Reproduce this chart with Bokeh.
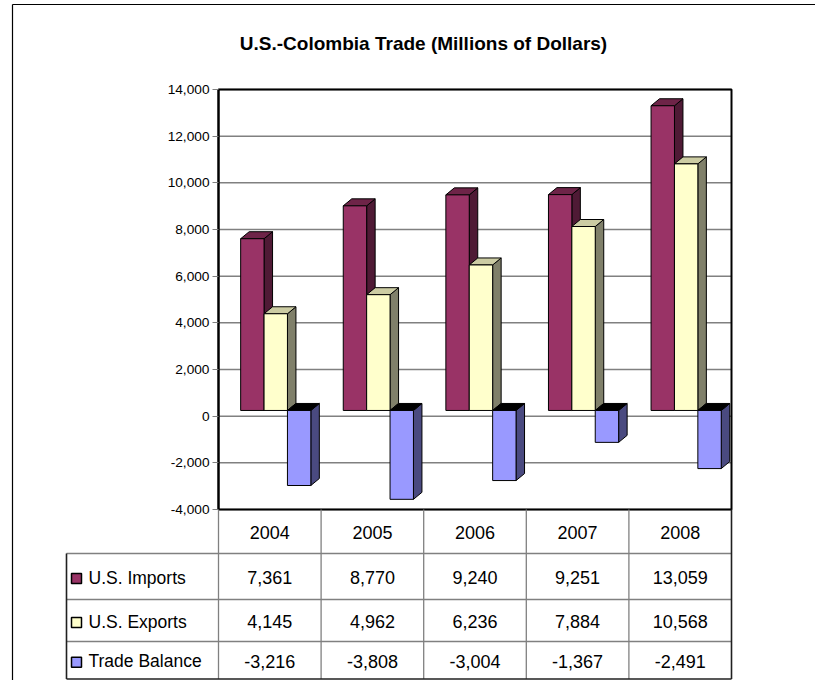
from bokeh.plotting import figure
from bokeh.models import Range1d, LinearAxis, FixedTicker, NumeralTickFormatter
from bokeh.embed import file_html
from bokeh.resources import INLINE
from bokeh.core.properties import value

# ---------------- data ----------------
years = ["2004", "2005", "2006", "2007", "2008"]
imports = [7361, 8770, 9240, 9251, 13059]
exports = [4145, 4962, 6236, 7884, 10568]
balance = [-3216, -3808, -3004, -1367, -2491]
series_names = ["U.S. Imports", "U.S. Exports", "Trade Balance"]
y_ticks = [-4000, -2000, 0, 2000, 4000, 6000, 8000, 10000, 12000, 14000]
title_text = "U.S.-Colombia Trade (Millions of Dollars)"

series_values = [imports, exports, balance]
front_colors = ["#993366", "#FFFFCC", "#9999FF"]
side_colors = ["#4F1A35", "#80806A", "#4A4A80"]
top_colors = ["#6E2448", "#CCCCA3", "#000000"]

# ---------------- layout (canvas pixels) ----------------
W, H = 815, 680
PA_L, PA_R = 218.0, 731.0
PA_T, PA_B = 89.0, 509.0
Y_MIN, Y_MAX = y_ticks[0], y_ticks[-1]
ncat = len(years)
cat_w = (PA_R - PA_L) / ncat
k = (PA_B - PA_T) / (Y_MAX - Y_MIN)
y0_px = PA_B - (0 - Y_MIN) * k


def ux(px):
    return (px - PA_L) / cat_w


def vy(py):
    return (y0_px - py) / k


FONT = value("Liberation Sans")

p = figure(width=W, height=H, output_backend="svg", toolbar_location=None,
           x_axis_type=None, y_axis_type=None,
           x_range=Range1d(ux(0), ux(W)),
           y_range=Range1d(vy(H), vy(0)),
           min_border=0, min_border_left=0, min_border_right=0,
           min_border_top=0, min_border_bottom=0)
p.outline_line_color = None
p.background_fill_color = "white"
p.border_fill_color = "white"

# outer border (left + top)
p.segment(x0=[ux(12), ux(12)], y0=[vy(4), vy(4)],
          x1=[ux(12), ux(W)], y1=[vy(H), vy(4)],
          line_color="black", line_width=1.2)

# gridlines
p.segment(x0=[0] * len(y_ticks), x1=[ncat] * len(y_ticks), y0=y_ticks, y1=y_ticks,
          line_color="#808080", line_width=1.5)

# ---------------- 3D bars ----------------
BAR_OFF = 0.216
BAR_W = 0.228
DX = 8.5 / cat_w
DY = 7.0 / k
BASE = 5.7 / k

for s, vals in enumerate(series_values):
    lefts, rights, bots, tops = [], [], [], []
    side_xs, side_ys, top_xs, top_ys = [], [], [], []
    for i, v in enumerate(vals):
        x0 = i + BAR_OFF + s * BAR_W
        x1 = x0 + BAR_W
        if v >= 0:
            b, t = BASE, BASE + v
        else:
            b, t = BASE + v, BASE
        lefts.append(x0); rights.append(x1); bots.append(b); tops.append(t)
        side_xs.append([x1, x1 + DX, x1 + DX, x1])
        side_ys.append([b, b + DY, t + DY, t])
        top_xs.append([x0, x1, x1 + DX, x0 + DX])
        top_ys.append([t, t, t + DY, t + DY])
    p.patches(xs=side_xs, ys=side_ys, fill_color=side_colors[s], line_color="black", line_width=1)
    p.patches(xs=top_xs, ys=top_ys, fill_color=top_colors[s], line_color="black", line_width=1)
    p.quad(left=lefts, right=rights, bottom=bots, top=tops,
           fill_color=front_colors[s], line_color="black", line_width=1)

# plot area border
p.quad(left=[0], right=[ncat], bottom=[Y_MIN], top=[Y_MAX],
       fill_color=None, line_color="black", line_width=2)

# y axis placed at plot-area left edge
yaxis = LinearAxis(fixed_location=0, bounds=(Y_MIN, Y_MAX),
                   ticker=FixedTicker(ticks=y_ticks),
                   formatter=NumeralTickFormatter(format="0,0"))
yaxis.major_label_text_font = "Liberation Sans"
yaxis.major_label_text_font_size = "13.7px"
yaxis.major_label_text_color = "black"
yaxis.major_label_standoff = 3
yaxis.axis_line_color = "black"
yaxis.axis_line_width = 2
yaxis.major_tick_out = 6
yaxis.major_tick_in = 0
yaxis.minor_tick_out = 0
yaxis.minor_tick_in = 0
yaxis.major_tick_line_color = "#808080"
p.add_layout(yaxis, "left")

# ---------------- data table ----------------
row_edges = [509.0, 553.0, 599.0, 641.0, 678.5]
LEG_L = 66.0
col_x = [i for i in range(ncat + 1)]

# inner horizontal lines
p.segment(x0=[ux(LEG_L)] * 3, x1=[ncat] * 3,
          y0=[vy(e) for e in row_edges[1:4]], y1=[vy(e) for e in row_edges[1:4]],
          line_color="#808080", line_width=1.3)
# inner vertical lines
p.segment(x0=col_x[:-1], x1=col_x[:-1], y0=[vy(row_edges[0])] * ncat, y1=[vy(row_edges[-1])] * ncat,
          line_color="#808080", line_width=1.3)
# outer lines
p.segment(x0=[ux(LEG_L), ux(LEG_L), ncat], x1=[ncat, ux(LEG_L), ncat],
          y0=[vy(row_edges[-1]), vy(row_edges[1]), vy(row_edges[0])],
          y1=[vy(row_edges[-1]), vy(row_edges[-1]), vy(row_edges[-1])],
          line_color="#202020", line_width=1.6)

TABLE_FS = value("18px")
# header years
hdr_y = vy((row_edges[0] + row_edges[1]) / 2 + 1)
p.text(x=[i + 0.5 for i in range(ncat)], y=[hdr_y] * ncat, text=years,
       text_font=FONT, text_font_size=TABLE_FS, text_color="black",
       text_align="center", text_baseline="middle")

for r, (name, vals) in enumerate(zip(series_names, series_values)):
    cy_px = (row_edges[r + 1] + row_edges[r + 2]) / 2 + 1
    cy = vy(cy_px)
    p.text(x=[i + 0.5 for i in range(ncat)], y=[cy] * ncat,
           text=[f"{v:,}" for v in vals],
           text_font=FONT, text_font_size=TABLE_FS, text_color="black",
           text_align="center", text_baseline="middle")
    p.scatter(x=[ux(76)], y=[vy(cy_px + 1)], marker="square", size=10,
              fill_color=front_colors[r], line_color="black", line_width=1.5)
    p.text(x=[ux(88)], y=[cy], text=[name],
           text_font=FONT, text_font_size=value("17.5px"), text_color="black",
           text_align="left", text_baseline="middle")

# title
p.text(x=[ux(423)], y=[vy(43)], text=[title_text],
       text_font=FONT, text_font_size=value("19px"), text_font_style="bold",
       text_color="black", text_align="center", text_baseline="middle")

open("out.html", "w").write(file_html(p, INLINE))
